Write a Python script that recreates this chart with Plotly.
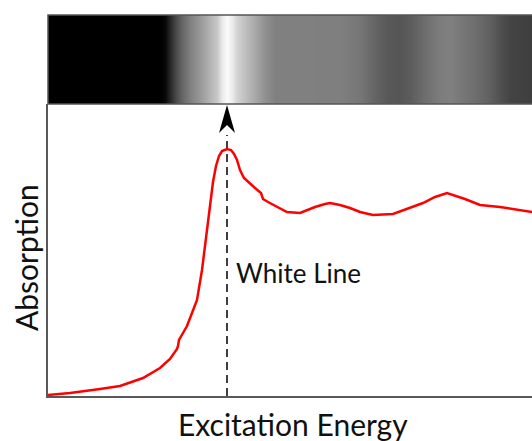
import plotly.graph_objects as go

# Absorption spectrum (arbitrary energy units, normalized absorption)
energy = [0, 22, 52, 72, 95, 112, 122, 129, 130, 131, 135, 139, 144, 149, 154, 158, 162, 165, 168, 171,
          174, 179, 183, 186, 189, 192, 196, 200, 207, 213, 215, 220, 224, 232, 239, 252, 267, 277, 282,
          292, 302, 312, 325, 345, 362, 375, 387, 399, 417, 432, 452, 484]
absorption = [0.004, 0.012, 0.028, 0.040, 0.072, 0.112, 0.148, 0.188, 0.200, 0.224, 0.252, 0.280, 0.332,
              0.384, 0.504, 0.624, 0.756, 0.856, 0.920, 0.960, 0.980, 0.988, 0.984, 0.968, 0.944, 0.904,
              0.872, 0.856, 0.832, 0.812, 0.788, 0.776, 0.768, 0.752, 0.736, 0.732, 0.756, 0.768, 0.772,
              0.764, 0.752, 0.736, 0.724, 0.728, 0.752, 0.772, 0.796, 0.812, 0.788, 0.764, 0.756, 0.736]

# Grey-level image of the band (0 = black, 255 = white)
band_energy = [0, 112, 117, 122, 129, 135, 142, 149, 155, 162, 169, 174, 179, 184, 189, 197, 204, 212,
               219, 227, 242, 292, 312, 327, 340, 350, 362, 377, 392, 402, 412, 427, 442, 452, 462, 484]
band_level = [0, 0, 8, 40, 80, 105, 128, 145, 160, 180, 200, 235, 250, 235, 210, 190, 175, 155,
              140, 128, 128, 127, 118, 100, 88, 85, 92, 110, 125, 128, 120, 110, 95, 80, 68, 62]

white_line_energy = 179
white_line_top = 1.044
arrow_tip = 1.164
label_text = "White Line"
x_title = "Excitation Energy"
y_title = "Absorption"

FONT = "Lato"
band_bottom = 292 / 381

fig = go.Figure()

fig.add_trace(go.Heatmap(
    x=band_energy, y=[0, 1], z=[band_level, band_level],
    colorscale=[[0, "black"], [1, "white"]], zmin=0, zmax=255,
    zsmooth="best", showscale=False, xaxis="x", yaxis="y2", hoverinfo="skip"))

fig.add_trace(go.Scatter(
    x=[white_line_energy, white_line_energy], y=[0, white_line_top], mode="lines",
    line=dict(color="black", width=1.5, dash="8px,5px"), showlegend=False))

fig.add_trace(go.Scatter(
    x=energy, y=absorption, mode="lines",
    line=dict(color="#ff0000", width=2.5), showlegend=False))

fig.update_layout(
    width=532, height=441,
    margin=dict(l=48, r=0, t=15, b=45),
    paper_bgcolor="white", plot_bgcolor="white",
    showlegend=False,
    xaxis=dict(range=[0, 484], showgrid=False, zeroline=False, showticklabels=False, ticks="",
               showline=True, linecolor="#595959", linewidth=2),
    yaxis=dict(domain=[0, band_bottom], range=[0, 1.168], showgrid=False, zeroline=False,
               showticklabels=False, ticks="", showline=True, linecolor="#595959", linewidth=2),
    yaxis2=dict(domain=[band_bottom, 1], range=[-0.5, 1.5], showgrid=False, zeroline=False,
                showticklabels=False, ticks="", anchor="x"),
    shapes=[
        dict(type="rect", xref="paper", yref="paper", x0=0, x1=1.02, y0=band_bottom, y1=1,
             line=dict(color="#555555", width=1.5)),
        dict(type="path", xref="x", yref="y", xsizemode="pixel", ysizemode="pixel",
             xanchor=white_line_energy, yanchor=arrow_tip,
             path="M0,0 L-8,-28 L0,-20 L8,-28 Z", fillcolor="black", line=dict(width=0)),
    ],
    annotations=[
        dict(text=label_text, x=white_line_energy + 7, y=0.492, xref="x", yref="y",
             xanchor="left", yanchor="middle", showarrow=False,
             font=dict(family=FONT, size=26, color="#111111")),
        dict(text=x_title, x=0.5 + 3 / 484, y=-28 / 381, xref="paper", yref="paper",
             xanchor="center", yanchor="middle", showarrow=False,
             font=dict(family=FONT, size=30, color="#111111")),
        dict(text=y_title, x=-22 / 484, y=138 / 381, xref="paper", yref="paper",
             xanchor="center", yanchor="middle", showarrow=False, textangle=-90,
             font=dict(family=FONT, size=30, color="#111111")),
    ],
)

fig.write_html("out.html")
